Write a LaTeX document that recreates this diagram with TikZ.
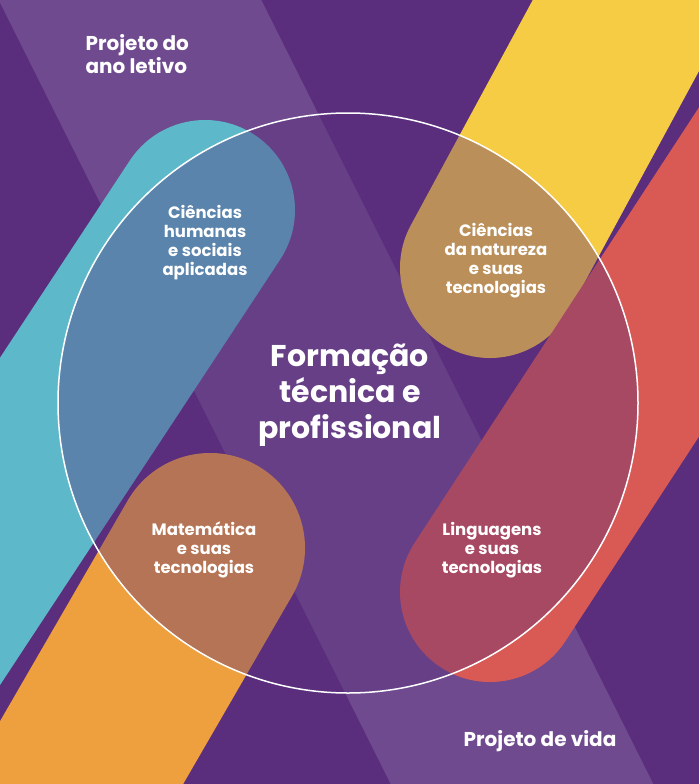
\documentclass[tikz,border=0pt]{standalone}
\usepackage{fontspec}
\setmainfont{Poppins}
\begin{document}
\begin{tikzpicture}[x=1pt,y=-1pt,
  band/.style={line cap=round},
  lbl/.style={text=white,font=\bfseries\fontsize{16.5}{19}\selectfont,align=center},
  big/.style={text=white,font=\bfseries\fontsize{30}{36}\selectfont,align=center}]
\definecolor{bgp}{HTML}{5A2E7C}
\definecolor{lp}{HTML}{6F4A8F}
\definecolor{teal}{HTML}{5DB9CA}
\definecolor{orng}{HTML}{EE9F3E}
\definecolor{yel}{HTML}{F6CC44}
\definecolor{redd}{HTML}{D95A55}
\useasboundingbox (0,0) rectangle (699,784);
\begin{scope}
\clip (0,0) rectangle (699,784);
\fill[bgp] (0,0) rectangle (699,784);
\coordinate (p1) at (60,-140);
\coordinate (p2) at (600,940);
\draw[lp,line width=235pt] (p1) -- (p2);
\coordinate (tc) at (205,210); \coordinate (te) at (-190,810);
\coordinate (oc) at (210,548); \coordinate (oe) at (-150,1170);
\coordinate (yc) at (490,268); \coordinate (ye) at (830,-360);
\coordinate (rc) at (490,592); \coordinate (re) at (870,10);
\draw[band,teal,line width=180pt] (tc) -- (te);
\draw[band,orng,line width=190pt] (oc) -- (oe);
\draw[band,yel,line width=180pt] (yc) -- (ye);
\draw[band,redd,line width=180pt] (rc) -- (re);
\end{scope}
\node[circle,minimum size=580pt,draw=white,line width=1.5pt,fill=bgp,fill opacity=0.38] (c) at (348,403) {};
\node[big] (f) at (350,395) {Formação\\técnica e\\profissional};
\node[lbl] (h) at (205,243) {Ciências\\humanas\\e sociais\\aplicadas};
\node[lbl] (n) at (496,261) {Ciências\\da natureza\\e suas\\tecnologias};
\node[lbl] (m) at (204,550) {Matemática\\e suas\\tecnologias};
\node[lbl] (l) at (492,550) {Linguagens\\e suas\\tecnologias};
\node[text=white,font=\bfseries\fontsize{20}{23}\selectfont,align=left,anchor=west] (pa) at (82,54) {Projeto do\\ano letivo};
\node[text=white,font=\bfseries\fontsize{20}{22}\selectfont] (pv) at (540,741) {Projeto de vida};
\end{tikzpicture}
\end{document}
